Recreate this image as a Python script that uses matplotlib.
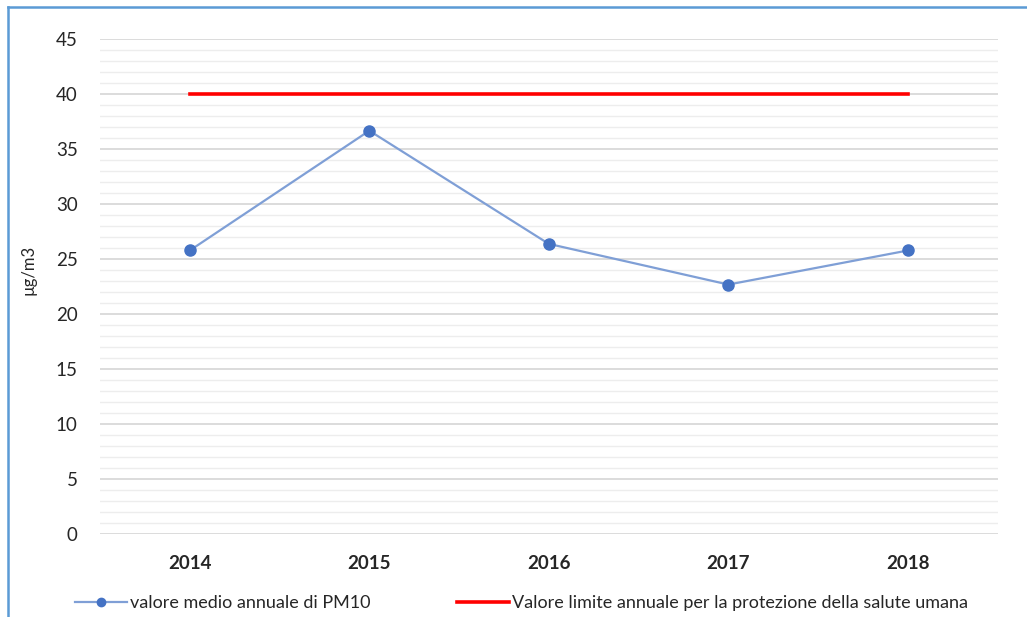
import matplotlib.pyplot as plt
from matplotlib.lines import Line2D
from matplotlib.ticker import MultipleLocator

plt.rcParams['font.family'] = ['Lato', 'DejaVu Sans']

anni = ['2014', '2015', '2016', '2017', '2018']
pm10_medio = [25.8, 36.7, 26.4, 22.7, 25.8]
valore_limite = [40, 40, 40, 40, 40]

etichetta_pm10 = 'valore medio annuale di PM10'
etichetta_limite = 'Valore limite annuale per la protezione della salute umana'

fig = plt.figure(figsize=(10.27, 6.17), dpi=100)
ax = fig.add_axes([0.0974, 0.1345, 0.874, 0.8015])

x = range(len(anni))
ax.plot(x, pm10_medio, color='#7F9FD6', linewidth=1.6, marker='o',
        markersize=8, markerfacecolor='#4472C4', markeredgecolor='#4472C4',
        zorder=3)
ax.plot(x, valore_limite, color='#FF0000', linewidth=2.6, zorder=3)

ax.set_xlim(-0.5, len(anni) - 0.5)
ax.set_ylim(0, 45)
ax.yaxis.set_major_locator(MultipleLocator(5))
ax.yaxis.set_minor_locator(MultipleLocator(1))
ax.grid(which='major', axis='y', color='#D9D9D9', linewidth=1.3)
ax.grid(which='minor', axis='y', color='#EDEDED', linewidth=1.0)
ax.set_axisbelow(True)

ax.set_xticks(list(x))
ax.set_xticklabels(anni, fontsize=13.5, fontweight='bold', color='#262626')
ax.tick_params(axis='y', which='both', length=0, labelsize=13.5,
               labelcolor='#262626', pad=16)
ax.tick_params(axis='x', length=0, pad=15)
for s in ax.spines.values():
    s.set_visible(False)

fig.text(0.028, 0.562, 'µg/m3', rotation=90, fontsize=12, color='#262626',
         ha='center', va='center')

# legenda in basso, due voci separate
h_pm10 = Line2D([], [], color='#7F9FD6', linewidth=1.6, marker='o', markersize=6,
                markerfacecolor='#4472C4', markeredgecolor='#4472C4')
h_limite = Line2D([], [], color='#FF0000', linewidth=2.6)
leg_kw = dict(loc='center left', frameon=False, fontsize=13, handlelength=2.9,
              handletextpad=0.15, borderpad=0, borderaxespad=0,
              labelcolor='#262626')
fig.legend(handles=[h_pm10], labels=[etichetta_pm10],
           bbox_to_anchor=(0.073, 0.022), **leg_kw)
fig.legend(handles=[h_limite], labels=[etichetta_limite],
           bbox_to_anchor=(0.445, 0.022), **leg_kw)

# cornice blu del riquadro
fig.add_artist(Line2D([0.008, 1.0], [0.989, 0.989], color='#5B9BD5', linewidth=1.8))
fig.add_artist(Line2D([0.008, 0.008], [0.0, 0.989], color='#5B9BD5', linewidth=1.8))

fig.savefig('out.png', dpi=100)
